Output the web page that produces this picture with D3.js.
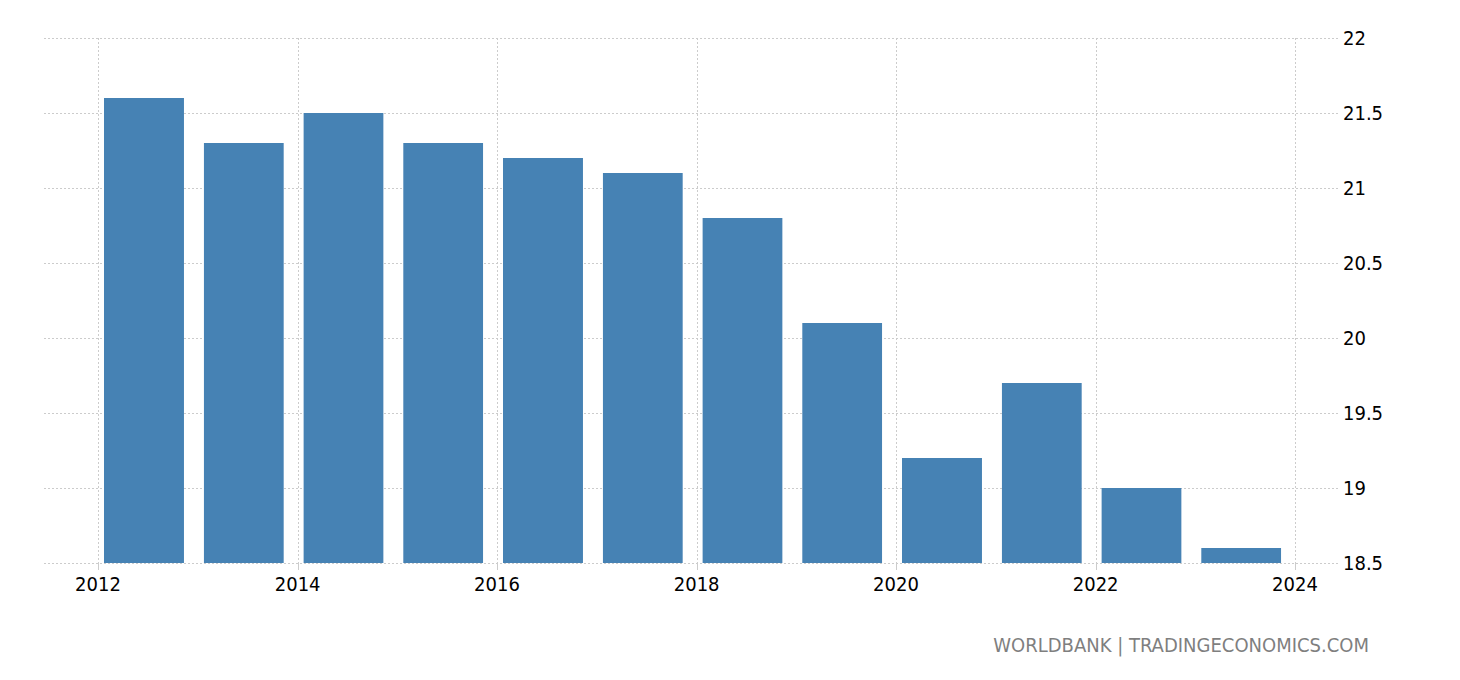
<!DOCTYPE html>
<html>
<head>
<meta charset="utf-8">
<script src="https://cdn.jsdelivr.net/npm/d3@7"></script>
<style>
  html, body { margin: 0; padding: 0; background: #fff; }
  svg { display: block; }
  text { font-family: "DejaVu Sans Condensed", "DejaVu Sans", sans-serif; }
</style>
</head>
<body>
<svg id="chart" width="1460" height="680"></svg>
<script>
const years = [2012, 2013, 2014, 2015, 2016, 2017, 2018, 2019, 2020, 2021, 2022, 2023];
const values = [21.6, 21.3, 21.5, 21.3, 21.2, 21.1, 20.8, 20.1, 19.2, 19.7, 19.0, 18.6];
const xTickYears = [2012, 2014, 2016, 2018, 2020, 2022, 2024];
const yTicks = [18.5, 19, 19.5, 20, 20.5, 21, 21.5, 22];
const sourceText = "WORLDBANK | TRADINGECONOMICS.COM";

(function () {
const svg = d3.select("#chart");
const plotLeft = 98, plotRight = 1295, plotTop = 38, plotBottom = 563;
const gridLeft = 44, gridRight = 1338;

const x = d3.scaleTime()
  .domain([new Date(2012, 0, 1), new Date(2024, 0, 1)])
  .range([plotLeft, plotRight]);
const y = d3.scaleLinear().domain([18.5, 22]).range([plotBottom, plotTop]);

// horizontal grid
svg.append("g").selectAll("line").data(yTicks).join("line")
  .attr("x1", gridLeft).attr("x2", gridRight)
  .attr("y1", d => Math.round(y(d)) + 0.5).attr("y2", d => Math.round(y(d)) + 0.5)
  .attr("stroke", "#cccccc").attr("stroke-width", 1).attr("stroke-dasharray", "2,2");

// vertical grid
svg.append("g").selectAll("line").data(xTickYears).join("line")
  .attr("x1", d => Math.round(x(new Date(d, 0, 1))) + 0.5)
  .attr("x2", d => Math.round(x(new Date(d, 0, 1))) + 0.5)
  .attr("y1", plotTop).attr("y2", plotBottom)
  .attr("stroke", "#cccccc").attr("stroke-width", 1).attr("stroke-dasharray", "2,2");

// bars
svg.append("g").selectAll("rect").data(years).join("rect")
  .attr("x", (d) => {
    const a = x(new Date(d, 0, 1)), b = x(new Date(d + 1, 0, 1));
    return a + (b - a) * 0.06;
  })
  .attr("width", (d) => {
    const a = x(new Date(d, 0, 1)), b = x(new Date(d + 1, 0, 1));
    return (b - a) * 0.8;
  })
  .attr("y", (d, i) => y(values[i]))
  .attr("height", (d, i) => y(18.5) - y(values[i]))
  .attr("fill", "#4682b4");

// x axis ticks (small solid marks)
svg.append("g").selectAll("line").data(xTickYears).join("line")
  .attr("x1", d => Math.round(x(new Date(d, 0, 1))) + 0.5)
  .attr("x2", d => Math.round(x(new Date(d, 0, 1))) + 0.5)
  .attr("y1", plotBottom).attr("y2", plotBottom + 7)
  .attr("stroke", "#cccccc").attr("stroke-width", 1);

// x labels
svg.append("g").selectAll("text").data(xTickYears).join("text")
  .attr("x", d => x(new Date(d, 0, 1)))
  .attr("y", 591)
  .attr("text-anchor", "middle")
  .attr("font-size", 20)
  .attr("fill", "#000")
  .text(d => d);

// y labels
svg.append("g").selectAll("text").data(yTicks).join("text")
  .attr("x", 1343)
  .attr("y", d => y(d))
  .attr("dy", "0.36em")
  .attr("font-size", 20)
  .attr("fill", "#000")
  .text(d => d);

// source
svg.append("text")
  .attr("x", 1369).attr("y", 652)
  .attr("text-anchor", "end")
  .attr("font-size", 20)
  .attr("fill", "#7f7f7f")
  .text(sourceText);
})();
</script>
</body>
</html>
